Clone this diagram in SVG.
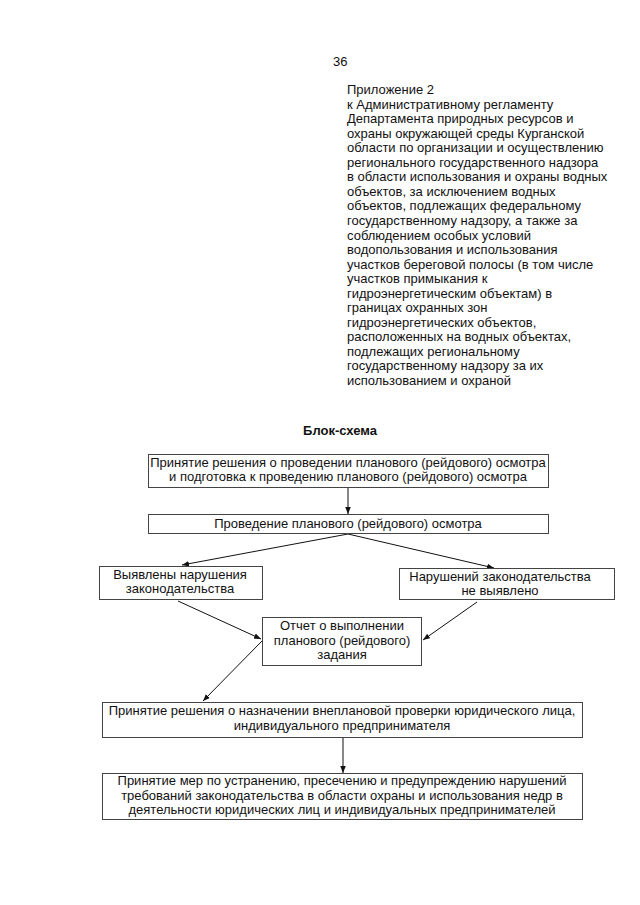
<svg xmlns="http://www.w3.org/2000/svg" width="640" height="905" viewBox="0 0 640 905">
<defs>
<marker id="ah" viewBox="0 0 10 10" refX="10" refY="5" markerWidth="7" markerHeight="7" orient="auto" markerUnits="userSpaceOnUse">
<path d="M0,1 L10,5 L0,9 z" fill="#111"/>
</marker>
<style>
text{font-family:"Liberation Sans",Arial,sans-serif;font-size:13px;fill:#111}
.c{text-anchor:middle}
.b{font-weight:bold}
.box{fill:#fff;stroke:#444;stroke-width:1}
.con{stroke:#111;stroke-width:1;fill:none;marker-end:url(#ah)}
</style>
</defs>
<rect width="640" height="905" fill="#fff"/>
<text x="333" y="66">36</text>
<g id="appendix">
<text x="347" y="94">Приложение 2</text>
<text x="347" y="108.55">к Административному регламенту</text>
<text x="347" y="123.1">Департамента природных ресурсов и</text>
<text x="347" y="137.65">охраны окружающей среды Курганской</text>
<text x="347" y="152.2">области по организации и осуществлению</text>
<text x="347" y="166.75">регионального государственного надзора</text>
<text x="347" y="181.3">в области использования и охраны водных</text>
<text x="347" y="195.85">объектов, за исключением водных</text>
<text x="347" y="210.4">объектов, подлежащих федеральному</text>
<text x="347" y="224.95">государственному надзору, а также за</text>
<text x="347" y="239.5">соблюдением особых условий</text>
<text x="347" y="254.05">водопользования и использования</text>
<text x="347" y="268.6">участков береговой полосы (в том числе</text>
<text x="347" y="283.15">участков примыкания к</text>
<text x="347" y="297.7">гидроэнергетическим объектам) в</text>
<text x="347" y="312.25">границах охранных зон</text>
<text x="347" y="326.8">гидроэнергетических объектов,</text>
<text x="347" y="341.35">расположенных на водных объектах,</text>
<text x="347" y="355.9">подлежащих региональному</text>
<text x="347" y="370.45">государственному надзору за их</text>
<text x="347" y="385">использованием и охраной</text>
</g>
<text class="c b" x="340" y="435">Блок-схема</text>
<g id="connectors">
<line class="con" x1="348" y1="487" x2="348" y2="514"/>
<line class="con" x1="348" y1="534" x2="182" y2="565"/>
<line class="con" x1="348" y1="534" x2="494" y2="568"/>
<line class="con" x1="178" y1="601" x2="261" y2="639"/>
<line class="con" x1="477" y1="602" x2="423" y2="640"/>
<line class="con" x1="262" y1="641" x2="203" y2="701"/>
<line class="con" x1="343" y1="737" x2="343" y2="773"/>
</g>
<g id="n1">
<rect class="box" x="148.5" y="454.5" width="400" height="33"/>
<text class="c" x="348" y="467">Принятие решения о проведении планового (рейдового) осмотра</text>
<text class="c" x="348" y="481">и подготовка к проведению планового (рейдового) осмотра</text>
</g>
<g id="n2">
<rect class="box" x="148.5" y="514.5" width="400" height="19"/>
<text class="c" x="348" y="528">Проведение планового (рейдового) осмотра</text>
</g>
<g id="n3">
<rect class="box" x="99.5" y="566.5" width="163" height="33"/>
<text class="c" x="180" y="579">Выявлены нарушения</text>
<text class="c" x="180" y="593">законодательства</text>
</g>
<g id="n4">
<rect class="box" x="399.5" y="568.5" width="215" height="31"/>
<text class="c" x="500" y="580.5">Нарушений законодательства</text>
<text class="c" x="500" y="595">не выявлено</text>
</g>
<g id="n5">
<rect class="box" x="262.5" y="617.5" width="159" height="48"/>
<text class="c" x="342" y="630">Отчет о выполнении</text>
<text class="c" x="342" y="645">планового (рейдового)</text>
<text class="c" x="342" y="659">задания</text>
</g>
<g id="n6">
<rect class="box" x="102.5" y="702.5" width="480" height="35"/>
<text class="c" x="342" y="715">Принятие решения о назначении внеплановой проверки юридического лица,</text>
<text class="c" x="342" y="730">индивидуального предпринимателя</text>
</g>
<g id="n7">
<rect class="box" x="102.5" y="773.5" width="480" height="46"/>
<text class="c" x="342" y="785">Принятие мер по устранению, пресечению и предупреждению нарушений</text>
<text class="c" x="342" y="800">требований законодательства в области охраны и использования недр в</text>
<text class="c" x="342" y="814">деятельности юридических лиц и индивидуальных предпринимателей</text>
</g>
</svg>
